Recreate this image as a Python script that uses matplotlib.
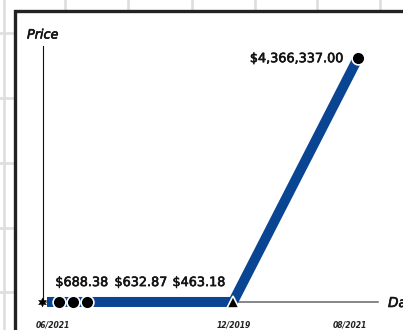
import matplotlib
matplotlib.use("Agg")
import matplotlib.pyplot as plt
import matplotlib.patheffects as pe
from matplotlib.patches import Rectangle

# --- data -------------------------------------------------------------
positions = [4, 16, 30, 44, 190, 315]
prices = [688.38, 688.38, 632.87, 463.18, 463.18, 4366337.00]
marker_kinds = [None, "o", "o", "o", "^", "o"]

star_pos = -1
star_price = 0.0

label_values = [688.38, 632.87, 463.18, 4366337.00]
label_right_pos = [65, 124, 182, 300]

tick_pos = [10, 191, 307]
tick_labels = ["06/2021", "12/2019", "08/2021"]

# --- styling ----------------------------------------------------------
W, H = 403, 330
BLUE = "#0a4594"
INK = "#141414"
heavy = [pe.withStroke(linewidth=0.45, foreground=INK)]

fig = plt.figure(figsize=(W / 100, H / 100), dpi=100)
fig.patch.set_facecolor("white")

# graph-paper backdrop and framed card (pixel coordinates)
bg = fig.add_axes([0, 0, 1, 1])
bg.set_xlim(0, W)
bg.set_ylim(H, 0)
bg.axis("off")
for gx in [4, 65, 128, 192, 255, 317, 380]:
    bg.plot([gx, gx], [0, H], color="#dedede", lw=1.9, zorder=0)
for gy in [33, 98, 163, 228, 292]:
    bg.plot([0, W], [gy, gy], color="#dedede", lw=1.9, zorder=0)
bg.add_patch(Rectangle((14.5, 10.5), W, H, facecolor="white",
                       edgecolor="#222222", lw=2.4, zorder=1))

# chart axes
ax = fig.add_axes([43 / W, (H - 302) / H, (378 - 43) / W, (302 - 46) / H])
ax.patch.set_alpha(0)
ax.set_xlim(0, 335)
top_px = 58
ymax = prices[-1] * (302 - 46) / (302 - top_px)
ax.set_ylim(0, ymax)

for side in ["top", "right"]:
    ax.spines[side].set_visible(False)
ax.spines["left"].set_color("#111111")
ax.spines["left"].set_linewidth(0.8)
ax.spines["bottom"].set_color("#666666")
ax.spines["bottom"].set_linewidth(1.1)
ax.set_yticks([])
ax.set_xticks(tick_pos)
ax.set_xticklabels(tick_labels, fontsize=5.5, fontstyle="italic",
                   fontweight="bold", color="#222222")
ax.tick_params(axis="x", length=0, pad=13)

ax.plot(positions, prices, color=BLUE, lw=7.2, solid_capstyle="butt",
        zorder=3, clip_on=False)

for x, y, m in zip(positions, prices, marker_kinds):
    if m == "o":
        ax.plot(x, y, marker="o", ms=9.2, mfc="black", mec="white",
                mew=1.2, zorder=4, clip_on=False)
    elif m == "^":
        ax.plot(x, y, marker="^", ms=9.0, mfc="black", mec="white",
                mew=1.2, zorder=4, clip_on=False)
ax.plot(star_pos, star_price, marker=(6, 1, 0), ms=6.5, color="black",
        mew=0.3, zorder=4, clip_on=False)

# price labels
for v, xr in zip(label_values, label_right_pos):
    if v > 1e5:
        ax.annotate(f"${v:,.2f}", (xr, v), ha="right", va="center",
                    fontsize=9.2, color=INK, annotation_clip=False,
                    xytext=(0, -0.5), textcoords="offset points",
                    path_effects=heavy)
    else:
        ax.annotate(f"${v:,.2f}", (xr, 0), ha="right", va="center",
                    fontsize=9.2, color=INK, annotation_clip=False,
                    xytext=(0, 14), textcoords="offset points",
                    path_effects=heavy)

# axis titles
fig.text(27 / W, 1 - 35 / H, "Price", fontsize=9.2, fontstyle="italic",
         color=INK, ha="left", va="center", path_effects=heavy)
fig.text(388 / W, 1 - 303 / H, "Date", fontsize=9.8, fontstyle="italic",
         color=INK, ha="left", va="center", path_effects=heavy)

fig.savefig("out.png", dpi=100, facecolor="white")
